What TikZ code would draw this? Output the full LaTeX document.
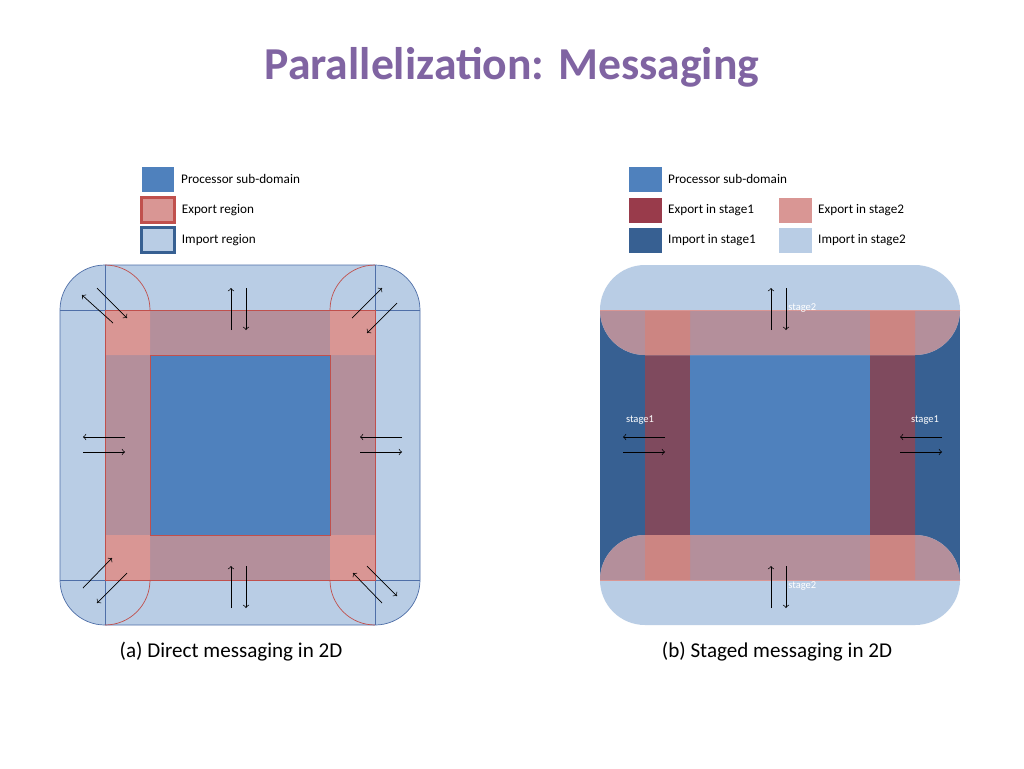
\documentclass[tikz,border=0pt]{standalone}
\usepackage{fontspec}
\setmainfont{Carlito}
\usetikzlibrary{positioning}
\usetikzlibrary{arrows}
\definecolor{procblue}{HTML}{4F81BD}
\definecolor{importlight}{HTML}{B9CDE5}
\definecolor{importdark}{HTML}{376092}
\definecolor{importedge}{HTML}{4F6FA8}
\definecolor{exportring}{HTML}{B48F9B}
\definecolor{exportcorner}{HTML}{D99694}
\definecolor{exportdark}{HTML}{7F4A5E}
\definecolor{exportedge}{HTML}{C0504D}
\definecolor{stagecorner}{HTML}{CC8582}
\definecolor{titlepurple}{HTML}{8064A2}
\begin{document}
\begin{tikzpicture}[x=0.02cm,y=-0.02cm,
legendbox/.style={rectangle, minimum width=0.66cm, minimum height=0.5cm, inner sep=0pt},
legendtext/.style={anchor=west, font=\fontsize{7.5}{9}\selectfont, inner sep=0pt},
stagelabel/.style={text=white, font=\fontsize{6}{7}\selectfont, inner sep=0pt},
msg/.style={->, thin, black},
]
\useasboundingbox[fill=white] (0,0) rectangle (1024,768);

%Title
\node[text=titlepurple, font=\fontsize{26}{30}\selectfont\bfseries] (title) at (512,67) {Parallelization: Messaging};

%Legend (a)
\node[legendbox, fill=procblue]                                   (la1) at (158,179) {};
\node[legendbox, fill=exportcorner, draw=exportedge, very thick] (la2) at (158,210) {};
\node[legendbox, fill=importlight, draw=importdark, very thick]  (la3) at (158,240) {};
\node[legendtext] (ta1) [right=0.12cm of la1] {Processor sub-domain};
\node[legendtext] (ta2) [right=0.12cm of la2] {Export region};
\node[legendtext] (ta3) [right=0.12cm of la3] {Import region};

%Legend (b)
\node[legendbox, fill=procblue]    (lb1) at (645,179) {};
\node[legendbox, fill=exportdark!80!red]  (lb2) at (645,210) {};
\node[legendbox, fill=importdark]  (lb3) at (645,240) {};
\node[legendbox, fill=exportcorner] (lb4) at (795,210) {};
\node[legendbox, fill=importlight]  (lb5) at (795,240) {};
\node[legendtext] (tb1) [right=0.12cm of lb1] {Processor sub-domain};
\node[legendtext] (tb2) [right=0.12cm of lb2] {Export in stage1};
\node[legendtext] (tb3) [right=0.12cm of lb3] {Import in stage1};
\node[legendtext] (tb4) [right=0.12cm of lb4] {Export in stage2};
\node[legendtext] (tb5) [right=0.12cm of lb5] {Import in stage2};

%Direct messaging
\fill[importlight, draw=importedge, rounded corners=0.9cm] (60,265) rectangle (420,625);
\draw[importedge] (105,265) -- (105,625) (375,265) -- (375,625)
                  (60,310) -- (420,310) (60,580) -- (420,580);
\fill[exportring] (105,310) rectangle (375,580);
\fill[exportcorner] (105,310) rectangle (150,355) (330,310) rectangle (375,355)
                    (105,535) rectangle (150,580) (330,535) rectangle (375,580);
\draw[exportedge] (105,310) rectangle (375,580);
\fill[procblue, draw=exportedge] (150,355) rectangle (330,535);
\draw[exportedge] (150,310) arc[start angle=0, end angle=90, radius=0.9cm];
\draw[exportedge] (330,310) arc[start angle=180, end angle=90, radius=0.9cm];
\draw[exportedge] (150,580) arc[start angle=0, end angle=-90, radius=0.9cm];
\draw[exportedge] (330,580) arc[start angle=180, end angle=270, radius=0.9cm];
\foreach \a/\b in {{(113,323)/(82,295)}, {(97,288)/(127,318)},
  {(231,330)/(231,288)}, {(246,288)/(246,330)},
  {(352,318)/(382,288)}, {(397,303)/(367,333)},
  {(125,437)/(83,437)}, {(83,452)/(125,452)},
  {(402,437)/(360,437)}, {(360,452)/(402,452)},
  {(231,608)/(231,566)}, {(246,566)/(246,608)},
  {(83,588)/(112,558)}, {(127,573)/(97,603)},
  {(382,603)/(353,573)}, {(367,566)/(397,596)}}
  \draw[msg] \a -- \b;
\node[font=\fontsize{12}{14}\selectfont] (capa) at (231,652) {(a) Direct messaging in 2D};

%Staged messaging
\fill[importdark] (600,310) rectangle (960,580);
\fill[exportdark] (645,355) rectangle (690,535) (870,355) rectangle (915,535);
\fill[procblue] (690,355) rectangle (870,535);
\fill[importlight, rounded corners=0.9cm] (600,265) rectangle (960,355);
\fill[importlight, rounded corners=0.9cm] (600,535) rectangle (960,625);
\begin{scope}
\clip (600,310) rectangle (960,355);
\fill[exportring, rounded corners=0.9cm] (600,265) rectangle (960,355);
\end{scope}
\begin{scope}
\clip (600,535) rectangle (960,580);
\fill[exportring, rounded corners=0.9cm] (600,535) rectangle (960,625);
\end{scope}
\fill[stagecorner] (645,310) rectangle (690,355) (870,310) rectangle (915,355)
                   (645,535) rectangle (690,580) (870,535) rectangle (915,580);
\draw[exportcorner] (600,310) -- (960,310) (600,580) -- (960,580);
\foreach \a/\b in {{(771,330)/(771,288)}, {(786,288)/(786,330)},
  {(771,608)/(771,566)}, {(786,566)/(786,608)},
  {(665,437)/(623,437)}, {(623,452)/(665,452)},
  {(942,437)/(900,437)}, {(900,452)/(942,452)}}
  \draw[msg] \a -- \b;
\node[stagelabel, anchor=west] (s2top) at (788,308) {stage2};
\node[stagelabel, anchor=west] (s2bot) at (788,586) {stage2};
\node[stagelabel] (s1left) at (640,420) {stage1};
\node[stagelabel] (s1right) at (925,420) {stage1};
\node[font=\fontsize{12}{14}\selectfont] (capb) at (777,652) {(b) Staged messaging in 2D};
\end{tikzpicture}
\end{document}
